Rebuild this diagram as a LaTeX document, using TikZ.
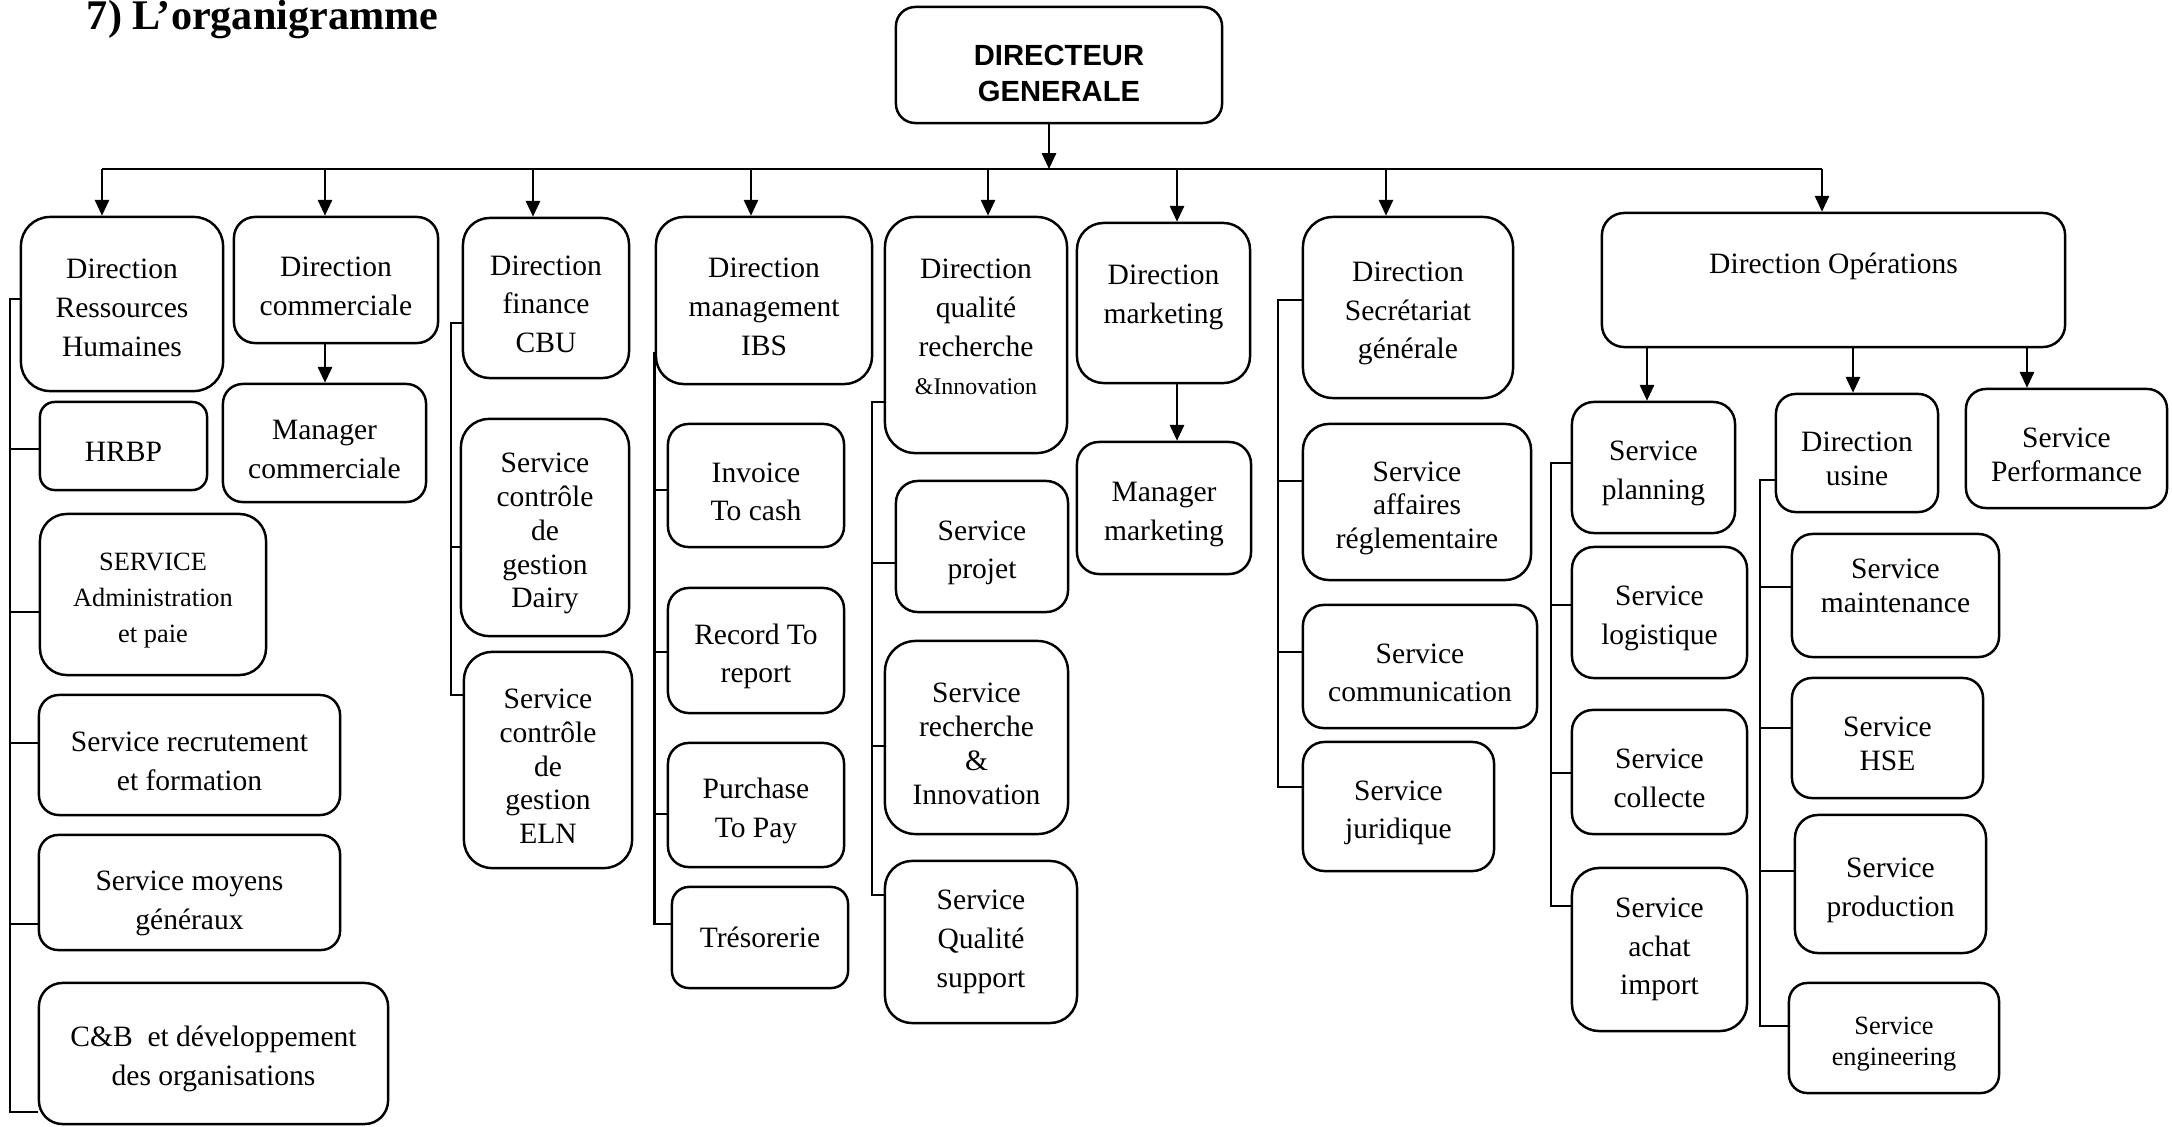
\documentclass[tikz,border=0pt]{standalone}
\usepackage{fontspec}
\setmainfont{Liberation Serif}
\newfontfamily\arialfont{Liberation Sans}
\usetikzlibrary{arrows.meta,calc}
\tikzset{org/.style n args={2}{draw,align=center,inner sep=2pt,text height=20.1pt,minimum width=#1cm,minimum height=#2cm,rounded corners={min(#1,#2)/6*1cm}}}

\begin{document}
\begin{tikzpicture}[x=0.01cm,y=-0.01cm,font=\fontsize{8.4}{11}\selectfont,line width=0.7pt,
  snug/.style={font=\fontsize{8.4}{9.6}\selectfont},
  flat/.style={text height={}},
  arr/.style={-{Triangle[length=4.5pt,width=4pt]}}]
\useasboundingbox (0,0) rectangle (2172,1127);
\node[anchor=base west,font=\fontsize{12}{14}\selectfont\bfseries] (title) at (74,29) {7) L’organigramme};

\node[org={3.26}{1.16},font=\fontsize{8.3}{10.4}\arialfont\bfseries,text height=21pt] (dg) at (1059,65) {DIRECTEUR\\GENERALE};

\node[org={2.02}{1.74},text height=29.7pt] (drh) at (122,304) {Direction\\Ressources\\Humaines};
\node[org={2.04}{1.26}] (com) at (336,280) {Direction\\commerciale};
\node[org={1.66}{1.60},text height=31.1pt] (fin) at (546,298) {Direction\\finance\\CBU};
\node[org={2.16}{1.67},text height=31.1pt] (ibs) at (764,300.5) {Direction\\management\\IBS};
\node[org={1.82}{2.36},flat] (qua) at (976,335) {Direction\\qualité\\recherche\\{\fontsize{6.8}{9}\selectfont\&Innovation}\\[-6.4pt]\mbox{}};
\node[org={1.73}{1.60},flat] (mkt) at (1163.5,303) {Direction\\marketing\\[-6pt]\mbox{}};
\node[org={2.10}{1.81},text height=31.1pt] (sec) at (1408,307.5) {Direction\\Secrétariat\\générale};
\node[org={4.63}{1.34},flat] (ops) at (1833.5,280) {Direction Opérations\\[-1.5pt]\mbox{}};

\node[org={1.67}{0.88},text height=9pt] (hrbp) at (123.5,446) {HRBP};
\node[org={2.26}{1.61},font=\fontsize{7.5}{10.2}\selectfont,text height=28.9pt] (adm) at (153,594.5) {SERVICE\\Administration\\et paie};
\node[org={3.01}{1.20}] (rec) at (189.5,755) {Service recrutement\\et formation};
\node[org={3.01}{1.15},text height=22.7pt] (moy) at (189.5,892.5) {Service moyens\\généraux};
\node[org={3.49}{1.41}] (cb) at (213.5,1053.5) {C\&B\ \ et développement\\des organisations};

\node[org={2.03}{1.18}] (mcom) at (324.5,443) {Manager\\commerciale};

\node[org={1.68}{2.17},snug,text height=47.5pt] (dai) at (545,527.5) {Service\\contrôle\\de\\gestion\\Dairy};
\node[org={1.68}{2.16},snug,text height=47.5pt] (eln) at (548,760) {Service\\contrôle\\de\\gestion\\ELN};

\node[org={1.76}{1.23}] (inv) at (756,485.5) {Invoice\\To cash};
\node[org={1.76}{1.25}] (rtr) at (756,650.5) {Record To\\report};
\node[org={1.76}{1.24}] (ptp) at (756,805) {Purchase\\To Pay};
\node[org={1.76}{1.01},flat] (tre) at (760,937.5) {Trésorerie};

\node[org={1.72}{1.31}] (prj) at (982,546.5) {Service\\projet};
\node[org={1.83}{1.93},snug,text height=37.9pt] (rch) at (976.5,737.5) {Service\\recherche\\\&\\Innovation};
\node[org={1.92}{1.62},flat] (qsp) at (981,942) {Service\\Qualité\\support};

\node[org={1.74}{1.32}] (mmk) at (1164,508) {Manager\\marketing};

\node[org={2.28}{1.56},snug,text height=28.3pt] (aff) at (1417,502) {Service\\affaires\\réglementaire};
\node[org={2.34}{1.23}] (cmm) at (1420,666.5) {Service\\communication};
\node[org={1.91}{1.29}] (jur) at (1398.5,806.5) {Service\\juridique};

\node[org={1.63}{1.31}] (pla) at (1653.5,467.5) {Service\\planning};
\node[org={1.75}{1.31}] (log) at (1659.5,612.5) {Service\\logistique};
\node[org={1.75}{1.24}] (col) at (1659.5,772) {Service\\collecte};
\node[org={1.75}{1.63},flat] (ach) at (1659.5,949.5) {Service\\achat\\import};

\node[org={1.62}{1.18},snug,text height=18.7pt] (usi) at (1857,453) {Direction\\usine};
\node[org={2.01}{1.19},snug,text height=18.7pt] (per) at (2066.5,448.5) {Service\\Performance};
\node[org={2.07}{1.23},snug,flat] (mai) at (1895.5,595.5) {Service\\maintenance\\[-4pt]\mbox{}};
\node[org={1.91}{1.20},snug,text height=18.7pt] (hse) at (1887.5,738) {Service\\HSE};
\node[org={1.91}{1.38}] (pro) at (1890.5,884) {Service\\production};
\node[org={2.10}{1.10},font=\fontsize{7.5}{9}\selectfont,text height=17.5pt] (eng) at (1894,1038) {Service\\engineering};

\coordinate (barL) at (102,169);
\coordinate (barR) at (1822,169);
\draw (barL) -- (barR);
\draw[arr] ([xshift=-.1cm]dg.south) -- ([xshift=-.1cm]dg.south |- barL);
\draw[arr] (barL) -- (barL |- drh.north);
\draw[arr] ([xshift=-.11cm]com.north |- barL) -- ([xshift=-.11cm]com.north);
\draw[arr] ([xshift=-.13cm]fin.north |- barL) -- ([xshift=-.13cm]fin.north);
\draw[arr] ([xshift=-.13cm]ibs.north |- barL) -- ([xshift=-.13cm]ibs.north);
\draw[arr] ([xshift=.12cm]qua.north |- barL) -- ([xshift=.12cm]qua.north);
\draw[arr] ([xshift=.135cm]mkt.north |- barL) -- ([xshift=.135cm]mkt.north);
\draw[arr] ([xshift=-.22cm]sec.north |- barL) -- ([xshift=-.22cm]sec.north);
\draw[arr] (barR) -- (barR |- ops.north);

\draw[arr] ([xshift=-.11cm]com.south) -- ([xshift=-.11cm]com.south |- mcom.north);
\draw[arr] ([xshift=.135cm]mkt.south) -- ([xshift=.135cm]mkt.south |- mmk.north);
\draw[arr] ([xshift=-.065cm]pla.north |- ops.south) -- ([xshift=-.065cm]pla.north);
\draw[arr] ([xshift=-.04cm]usi.north |- ops.south) -- ([xshift=-.04cm]usi.north);
\draw[arr] ([xshift=-.395cm]per.north |- ops.south) -- ([xshift=-.395cm]per.north);

\coordinate (rhS) at (10,299);
\draw (rhS -| drh.west) -- (rhS) |- ([yshift=-.585cm]cb.west);
\foreach \c/\s in {hrbp/-.03cm,adm/-.175cm,rec/.12cm,moy/-.315cm}
  \draw ([yshift=\s]\c.west -| rhS) -- ([yshift=\s]\c.west);

\coordinate (finS) at (451,323);
\draw (finS -| fin.west) -- (finS) |- ([yshift=.65cm]eln.west);
\draw ([yshift=-.195cm]dai.west -| finS) -- ([yshift=-.195cm]dai.west);

\coordinate (ibsS) at ([yshift=-.515cm]ibs.west);
\draw (ibsS) |- ([yshift=.135cm]tre.west);
\foreach \c/\s in {inv/-.045cm,rtr/-.015cm,ptp/-.09cm}
  \draw ([yshift=\s]\c.west -| ibsS) -- ([yshift=\s]\c.west);

\coordinate (quaS) at (872,402);
\draw (quaS -| qua.west) -- (quaS) |- ([yshift=.47cm]qsp.west);
\foreach \c/\s in {prj/-.165cm,rch/-.085cm}
  \draw ([yshift=\s]\c.west -| quaS) -- ([yshift=\s]\c.west);

\coordinate (secS) at (1278,300);
\draw (secS -| sec.west) -- (secS) |- ([yshift=.195cm]jur.west);
\foreach \c/\s in {aff/.21cm,cmm/.145cm}
  \draw ([yshift=\s]\c.west -| secS) -- ([yshift=\s]\c.west);

\coordinate (plaS) at (1551,463);
\draw (plaS -| pla.west) -- (plaS) |- ([yshift=.435cm]ach.west);
\foreach \c/\s in {log/.075cm,col/-.01cm}
  \draw ([yshift=\s]\c.west -| plaS) -- ([yshift=\s]\c.west);

\coordinate (usiS) at (1760,480);
\draw (usiS -| usi.west) -- (usiS) |- ([yshift=.12cm]eng.west);
\foreach \c/\s in {mai/.085cm,hse/.1cm,pro/.13cm}
  \draw ([yshift=\s]\c.west -| usiS) -- ([yshift=\s]\c.west);
\end{tikzpicture}
\end{document}
